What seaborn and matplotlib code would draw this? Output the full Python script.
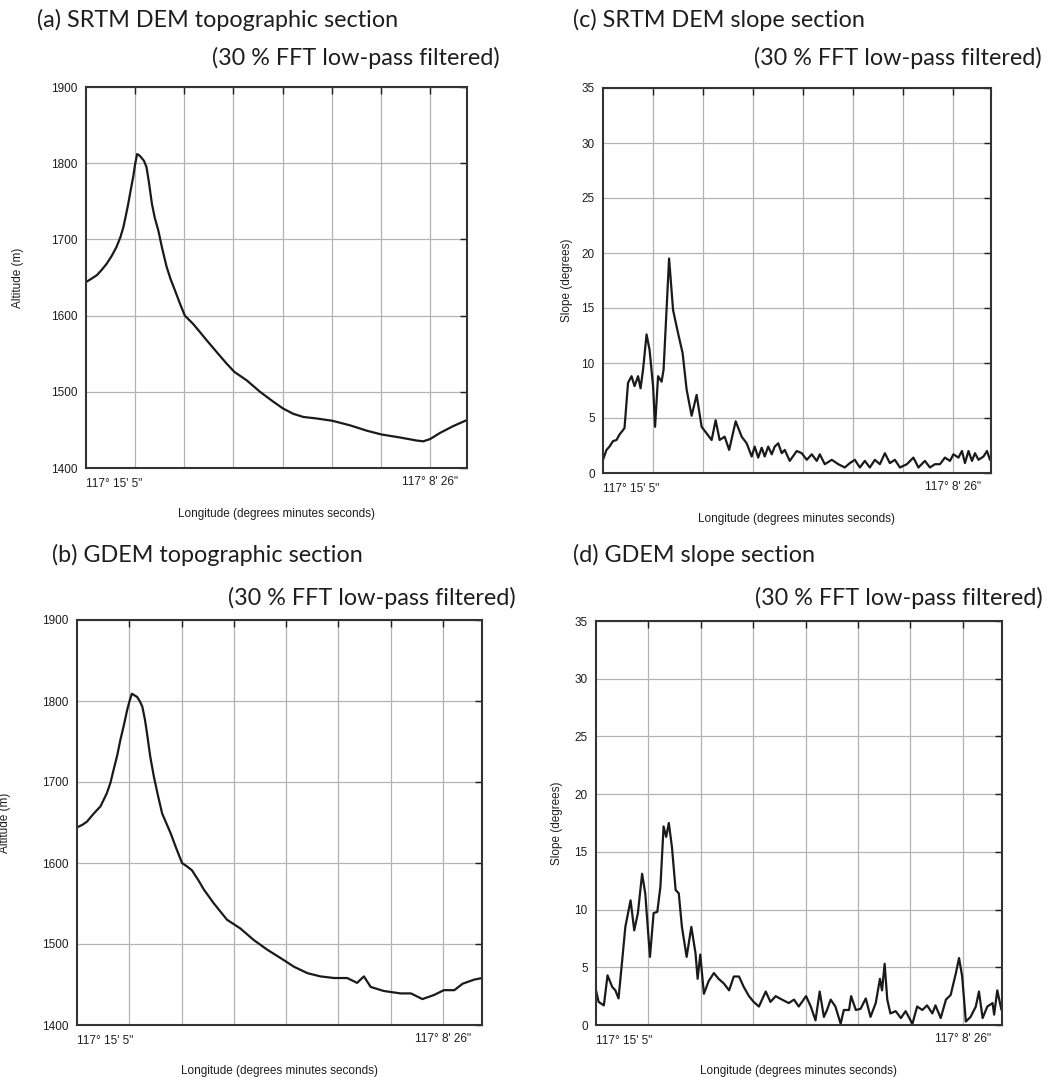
import numpy as np
import pandas as pd
import seaborn as sns
import matplotlib.pyplot as plt

# x is in grid units: 0 = start of the section, 1 = 117°15'5", 7 = 117°8'26"
srtm_x = [0, 0.1, 0.22, 0.32, 0.42, 0.52, 0.62, 0.7, 0.76, 0.81, 0.86, 0.91, 0.96, 1.0, 1.04,
          1.09, 1.13, 1.18, 1.23, 1.28, 1.34, 1.4, 1.47, 1.55, 1.64, 1.72, 1.81, 1.91,
          2.01, 2.18, 2.31, 2.45, 2.66, 2.86, 3.02, 3.27, 3.54, 3.81, 4.01, 4.22, 4.42, 4.69,
          5.01, 5.37, 5.71, 6.01, 6.39, 6.73, 6.86, 7.0, 7.2, 7.47, 7.75]
srtm_alt = [1644, 1648, 1653, 1660, 1668, 1678, 1690, 1703, 1716, 1731, 1747, 1765, 1782, 1799,
            1812, 1810, 1807, 1803, 1795, 1775, 1747, 1728, 1712, 1688, 1664, 1648, 1633, 1616,
            1600, 1589, 1579, 1568, 1552, 1537, 1526, 1515, 1500, 1487, 1478, 1471, 1467, 1465,
            1462, 1456, 1449, 1444, 1440, 1436, 1435, 1438, 1446, 1455, 1463]

gdem_x = [0, 0.1, 0.19, 0.32, 0.45, 0.57, 0.64, 0.70, 0.77, 0.83, 0.9, 0.96, 1.01, 1.05, 1.1,
          1.15, 1.2, 1.25, 1.3, 1.34, 1.4, 1.47, 1.55, 1.63,
          1.79, 1.9, 2.01, 2.1, 2.20, 2.32, 2.43, 2.62, 2.87, 3.13, 3.38, 3.64, 3.96, 4.15, 4.41,
          4.66, 4.92, 5.17, 5.36, 5.49, 5.62, 5.87, 6.19, 6.39, 6.61, 6.83, 7.02, 7.22, 7.38,
          7.60, 7.75]
gdem_alt = [1644, 1647, 1651, 1661, 1670, 1686, 1699, 1715, 1733, 1752, 1771, 1789, 1801, 1809,
            1807, 1805, 1800, 1793, 1777, 1760, 1732, 1707, 1683, 1661,
            1637, 1618, 1600, 1596, 1591, 1579, 1567, 1550, 1530, 1519, 1505, 1493, 1480, 1472,
            1464, 1460, 1458, 1458, 1452, 1460, 1447, 1442, 1439, 1439, 1432, 1437, 1443, 1443,
            1451, 1456, 1458]

srtm_slope_x = [0, 0.07, 0.13, 0.2, 0.27, 0.33, 0.4, 0.43, 0.5, 0.57, 0.63, 0.7, 0.75, 0.8,
                0.87, 0.93, 1.0, 1.04, 1.1, 1.17, 1.21, 1.32, 1.4, 1.5, 1.59, 1.67, 1.77,
                1.87, 1.97, 2.07, 2.17, 2.25, 2.33, 2.43, 2.52, 2.65, 2.77, 2.87, 2.97, 3.03,
                3.1, 3.17, 3.23, 3.3, 3.37, 3.43, 3.5, 3.57, 3.63, 3.73, 3.87, 3.97, 4.07,
                4.17, 4.27, 4.33, 4.43, 4.57, 4.7, 4.83, 4.93, 5.03, 5.13, 5.23, 5.33, 5.43,
                5.53, 5.63, 5.73, 5.83, 5.93, 6.07, 6.2, 6.3, 6.43, 6.53, 6.63, 6.73, 6.83,
                6.93, 7.0, 7.1, 7.17, 7.23, 7.3, 7.37, 7.43, 7.5, 7.6, 7.67, 7.73]
srtm_slope = [1.2, 2.1, 2.4, 2.9, 3.0, 3.5, 3.9, 4.1, 8.2, 8.8, 7.9, 8.8, 7.7, 9.4,
              12.6, 11.2, 7.9, 4.2, 8.8, 8.3, 9.4, 19.5, 14.8, 12.7, 10.9, 7.6, 5.2,
              7.1, 4.2, 3.6, 3.0, 4.8, 3.0, 3.3, 2.1, 4.7, 3.3, 2.7, 1.5, 2.4,
              1.4, 2.3, 1.5, 2.4, 1.7, 2.4, 2.7, 1.8, 2.1, 1.1, 2.0, 1.8, 1.2,
              1.7, 1.1, 1.7, 0.8, 1.2, 0.8, 0.5, 0.9, 1.2, 0.5, 1.1, 0.5, 1.2,
              0.8, 1.8, 0.9, 1.2, 0.5, 0.8, 1.4, 0.5, 1.1, 0.5, 0.8, 0.8, 1.4,
              1.1, 1.7, 1.4, 2.0, 0.9, 2.0, 1.1, 1.8, 1.2, 1.5, 2.0, 1.2]

gdem_slope_x = [0, 0.05, 0.15, 0.22, 0.31, 0.37, 0.43, 0.5, 0.56, 0.66, 0.73, 0.8, 0.88, 0.94,
                1.03, 1.1, 1.17, 1.23, 1.29, 1.34, 1.39, 1.45, 1.52, 1.58, 1.64, 1.73, 1.82,
                1.9, 1.94, 1.99, 2.06, 2.15, 2.25, 2.34, 2.44, 2.54, 2.63, 2.73, 2.82, 2.92,
                3.01, 3.11, 3.24, 3.33, 3.43, 3.55, 3.68, 3.78, 3.87, 4.01, 4.1, 4.19, 4.27,
                4.35, 4.41, 4.48, 4.57, 4.67, 4.73, 4.83, 4.87, 4.96, 5.05, 5.15, 5.24, 5.34,
                5.42, 5.46, 5.51, 5.56, 5.62, 5.72, 5.82, 5.91, 6.04, 6.13, 6.23, 6.32, 6.42,
                6.48, 6.58, 6.68, 6.77, 6.87, 6.93, 6.99, 7.06, 7.15, 7.25, 7.31, 7.38, 7.47,
                7.57, 7.6, 7.66, 7.74]
gdem_slope = [3.0, 2.0, 1.7, 4.3, 3.3, 3.0, 2.3, 5.6, 8.5, 10.8, 8.2, 9.7, 13.1, 11.4,
              5.9, 9.7, 9.8, 12.0, 17.2, 16.3, 17.5, 15.4, 11.7, 11.4, 8.5, 5.9, 8.5,
              6.2, 4.0, 6.1, 2.7, 3.8, 4.5, 4.0, 3.6, 3.0, 4.2, 4.2, 3.3, 2.5,
              2.0, 1.6, 2.9, 2.0, 2.5, 2.2, 1.9, 2.2, 1.6, 2.5, 1.6, 0.4, 2.9,
              0.7, 1.3, 2.2, 1.6, 0.1, 1.3, 1.3, 2.5, 1.3, 1.4, 2.3, 0.7, 1.9,
              4.0, 3.0, 5.3, 2.2, 1.0, 1.2, 0.6, 1.2, 0.1, 1.6, 1.3, 1.7, 1.0,
              1.7, 0.6, 2.2, 2.6, 4.5, 5.8, 4.2, 0.3, 0.7, 1.6, 2.9, 0.6, 1.6,
              1.9, 0.9, 3.0, 1.3]

grid_pos = [1, 2, 3, 4, 5, 6, 7]
left_label = "117\u00b0 15' 5\""
right_label = "117\u00b0 8' 26\""
xlabel = "Longitude (degrees minutes seconds)"
line1 = ["(a) SRTM DEM topographic section", "(c) SRTM DEM slope section",
         "(b) GDEM topographic section", "(d) GDEM slope section"]
line2 = "(30 % FFT low-pass filtered)"

W, H = 1053, 1077
sns.set_style("white")
plt.rcParams['font.family'] = ['Liberation Sans', 'DejaVu Sans']

fig = plt.figure(figsize=(W / 100, H / 100), dpi=100)


def px_axes(l, t, r, b):
    return fig.add_axes([l / W, 1 - b / H, (r - l) / W, (b - t) / H])


panels = [
    # box (l, t, r, b) px, x, y, ylim, yticks, ylabel, ylabel x px, title pos
    dict(box=(86, 87, 467, 468), x=srtm_x, y=srtm_alt, ylim=(1400, 1900),
         yticks=range(1400, 2000, 100), ylabel="Altitude (m)", ylx=18,
         t1=(37, 20), t2=(500, 58), title=line1[0]),
    dict(box=(603, 88, 991, 473), x=srtm_slope_x, y=srtm_slope, ylim=(0, 35),
         yticks=range(0, 40, 5), ylabel="Slope (degrees)", ylx=567,
         t1=(573, 20), t2=(1042, 58), title=line1[1]),
    dict(box=(77, 620, 482, 1025), x=gdem_x, y=gdem_alt, ylim=(1400, 1900),
         yticks=range(1400, 2000, 100), ylabel="Altitude (m)", ylx=5,
         t1=(52, 555), t2=(516, 598), title=line1[2]),
    dict(box=(596, 621, 1002, 1025), x=gdem_slope_x, y=gdem_slope, ylim=(0, 35),
         yticks=range(0, 40, 5), ylabel="Slope (degrees)", ylx=557,
         t1=(573, 555), t2=(1043, 598), title=line1[3]),
]

small = 8.5
ink = '#1e1e1e'
for p in panels:
    l, t, r, b = p['box']
    ax = px_axes(l, t, r, b)
    df = pd.DataFrame({'x': p['x'], 'y': p['y']})
    sns.lineplot(data=df, x='x', y='y', ax=ax, color='#1a1a1a', lw=1.6, sort=False)
    ax.set_xlim(0, 7.75)
    ax.set_ylim(*p['ylim'])
    ax.set_yticks(list(p['yticks']))
    ax.set_xticks(grid_pos, [''] * 6 + [right_label])
    ax.set_xticks([0], [left_label], minor=True)
    for lab in ax.get_xticklabels(minor=True):
        lab.set_ha('left')
    ax.tick_params(which='major', direction='in', length=5, width=1, top=True, right=True,
                   labelsize=small, pad=6, colors=ink)
    ax.tick_params(which='minor', length=0, labelsize=small, pad=7, colors=ink)
    ax.grid(True, which='major', color='#b4b4b4', lw=0.9)
    for s in ax.spines.values():
        s.set_color('#333333')
        s.set_linewidth(1.5)
    ax.set_xlabel(xlabel, fontsize=small, labelpad=13, color=ink)
    ax.set_ylabel('')
    fig.text(p['ylx'] / W, 1 - (t + b) / 2 / H, p['ylabel'], rotation=90, fontsize=small,
             ha='center', va='center', color=ink)
    fig.text(p['t1'][0] / W, 1 - p['t1'][1] / H, p['title'], fontsize=16.8,
             family=['Lato', 'DejaVu Sans'], ha='left', va='center', color=ink)
    fig.text(p['t2'][0] / W, 1 - p['t2'][1] / H, line2, fontsize=16.8,
             family=['Lato', 'DejaVu Sans'], ha='right', va='center', color=ink)

fig.savefig('out.png', dpi=100)
